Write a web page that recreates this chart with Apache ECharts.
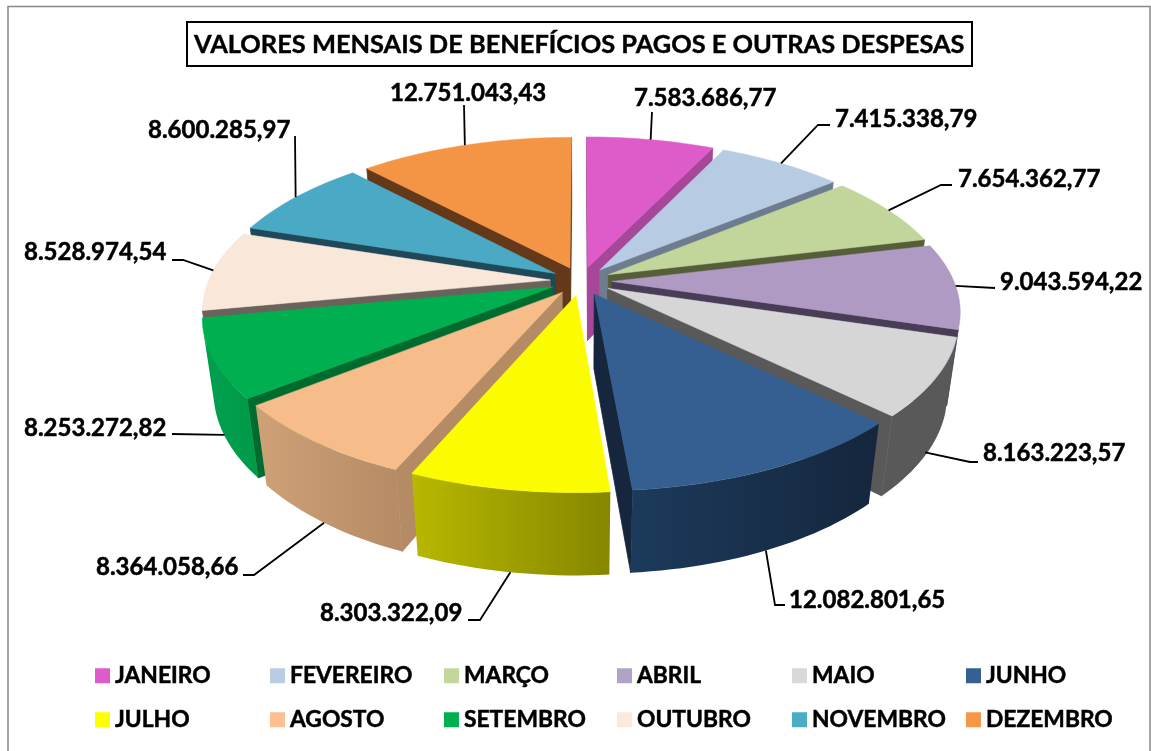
<!DOCTYPE html>
<html><head><meta charset="utf-8">
<style>html,body{margin:0;padding:0;background:#fff}#c{width:1151px;height:751px}</style>
<script src="https://cdn.jsdelivr.net/npm/echarts@6/dist/echarts.min.js"></script>
</head><body><div id="c"></div>
<script>
const months = ['JANEIRO','FEVEREIRO','MARÇO','ABRIL','MAIO','JUNHO','JULHO','AGOSTO','SETEMBRO','OUTUBRO','NOVEMBRO','DEZEMBRO'];
const values = [7583686.77,7415338.79,7654362.77,9043594.22,8163223.57,12082801.65,8303322.09,8364058.66,8253272.82,8528974.54,8600285.97,12751043.43];
const valueLabels = ['7.583.686,77','7.415.338,79','7.654.362,77','9.043.594,22','8.163.223,57','12.082.801,65','8.303.322,09','8.364.058,66','8.253.272,82','8.528.974,54','8.600.285,97','12.751.043,43'];

const legendColors = ['#dd5cc9','#b8cce4','#c3d69b','#b3a2c7','#d9d9d9','#376092','#ffff00','#fac090','#00b050','#fde9d9','#4bacc6','#f79646'];
const topColors  = ['#dd5cc9','#b7cbe2','#c2d59a','#af9ac3','#d6d6d6','#355f90','#fcfc00','#f6bd8a','#00b050','#f9e8da','#4aa9c4','#f49545'];
const sideColors = ['#a6479a','#6d7c8f','#555e38','#483c56','#595959','#15263d','#868600','#b58b65','#006b2e','#6b625c','#1f4858','#63391a'];
const wallLeft   = ['#a6479a','#6d7c8f','#555e38','#483c56','#595959','#1c3a5b','#b8b800','#cfa177','#00a050','#6b625c','#1f4858','#63391a'];
const wallRight  = ['#a6479a','#6d7c8f','#555e38','#483c56','#595959','#15263d','#868600','#b58b65','#009a48','#6b625c','#1f4858','#63391a'];

const view = {cx:581, cy:281, a:342, b:157.5, c:76, p:0.174, q:0.03, explode:0.09};
const fontFamily = 'Lato, "Open Sans", sans-serif';
const labelLayout = [
  {h:0,    bends:[[652,112]],            x:634,  y:98},
  {h:0,    bends:[[818,125],[830,125]],  x:835,  y:119},
  {h:0,    bends:[[941,185],[952,185]],  x:958,  y:179},
  {h:0,    bends:[[995,288]],            x:1000, y:282},
  {h:0.95, bends:[[970,462],[978,462]],  x:983,  y:453},
  {h:1,    bends:[[775,605],[785,605]],  x:789,  y:600},
  {h:1,    bends:[[480,620],[468,620]],  x:320,  y:613},
  {h:1,    bends:[[254,575],[243,575]],  x:96,   y:567},
  {h:0.98, bends:[[172,434]],            x:24,   y:428},
  {h:0,    bends:[[183,260],[172,260]],  x:24,   y:252},
  {h:0,    bends:[[295,136]],            x:148,  y:130},
  {h:0,    bends:[[464,105]],            x:390,  y:93}
];
const legendX = [95,270,444,617,792,966];
const legendY = [664,708];

const total = values.reduce((s,v)=>s+v,0);
const startAngle = i => values.slice(0,i).reduce((s,v)=>s+v,0)/total*Math.PI*2;
const endAngle = i => startAngle(i)+values[i]/total*Math.PI*2;
const midAngle = i => (startAngle(i)+endAngle(i))/2;

function project(X,Y,h){
  const w = 1+view.p*Y+view.q*h;
  return [view.cx+view.a*X/w, view.cy+(-view.b*Y+view.c*h)/w];
}
function area(poly){
  let s=0;
  for(let i=0;i<poly.length;i++){const A=poly[i],B=poly[(i+1)%poly.length];s+=A[0]*B[1]-B[0]*A[1];}
  return s;
}
function renderSlice(i,api){
  const share = api.value(0)/total*Math.PI*2;
  const t0 = startAngle(i), t1 = t0+share, m=(t0+t1)/2;
  const ox=view.explode*Math.sin(m), oy=view.explode*Math.cos(m);
  const pt=(t,h)=>project(ox+Math.sin(t),oy+Math.cos(t),h);
  const tip=h=>project(ox,oy,h);
  const steps=Math.ceil(share/(Math.PI/120));
  const ang=[];for(let k=0;k<=steps;k++)ang.push(t0+share*k/steps);
  const children=[];
  const poly=(points,fill,z2,stroke,lw)=>children.push({type:'polygon',z2,shape:{points},style:{fill,stroke,lineWidth:lw}});
  const startFace=[tip(0),pt(t0,0),pt(t0,1),tip(1)];
  const endFace=[tip(0),pt(t1,0),pt(t1,1),tip(1)];
  if(area(startFace)<0)poly(startFace,sideColors[i],1,sideColors[i],0.8);
  if(area(endFace)>0)poly(endFace,sideColors[i],1,sideColors[i],0.8);
  const vis=[];
  for(let k=0;k<steps;k++){
    if(area([pt(ang[k],0),pt(ang[k+1],0),pt(ang[k+1],1),pt(ang[k],1)])<0){
      if(!vis.length)vis.push(ang[k]);
      vis.push(ang[k+1]);
    }
  }
  if(vis.length>1){
    const wall=vis.map(t=>pt(t,0)).concat(vis.slice().reverse().map(t=>pt(t,1)));
    poly(wall,new echarts.graphic.LinearGradient(0,0,1,0,[{offset:0,color:wallLeft[i]},{offset:1,color:wallRight[i]}]),2,null,0);
  }
  poly([tip(0)].concat(ang.map(t=>pt(t,0))),topColors[i],3,topColors[i],0.5);
  const L=labelLayout[i];
  children.push({type:'polyline',z2:4,shape:{points:[pt(m,L.h)].concat(L.bends)},style:{stroke:'#000',lineWidth:1.8,fill:null}});
  children.push({type:'text',z2:5,x:L.x,y:L.y,style:{text:valueLabels[i],fill:'#000',stroke:'#000',lineWidth:0.5,font:'bold 24px '+fontFamily,align:'left',verticalAlign:'middle'}});
  return {type:'group',children};
}
const series=months.map((name,i)=>({
  type:'custom',name,coordinateSystem:'none',
  z:2+values.map((_,j)=>Math.cos(midAngle(j))).filter(c=>c>Math.cos(midAngle(i))).length,
  itemStyle:{color:legendColors[i]},
  data:[[values[i]]],
  renderItem:(params,api)=>renderSlice(i,api)
}));
const legends=months.map((name,i)=>({
  data:[{name,icon:'rect'}],orient:'horizontal',selectedMode:false,
  left:legendX[i%6],top:legendY[Math.floor(i/6)],padding:0,
  itemWidth:15,itemHeight:15,itemGap:0,
  textStyle:{color:'#000',fontFamily,fontWeight:'bold',fontSize:22.8,textBorderColor:'#000',textBorderWidth:0.5},
  formatter:n=>n
}));
const chart=echarts.init(document.getElementById('c'),null,{renderer:'canvas'});
chart.setOption({
  animation:false,backgroundColor:'#fff',
  title:{text:'VALORES MENSAIS DE BENEFÍCIOS PAGOS E OUTRAS DESPESAS',left:187,top:22,borderColor:'#000',borderWidth:2,padding:[10,8,9,7],
    textStyle:{color:'#000',fontFamily,fontWeight:'bold',fontSize:25.4,textBorderColor:'#000',textBorderWidth:0.4}},
  legend:legends,
  graphic:[{type:'rect',z:0,shape:{x:8,y:6.5,width:1142,height:800},style:{fill:null,stroke:'#888',lineWidth:1.5},silent:true}],
  series
});
</script></body></html>
